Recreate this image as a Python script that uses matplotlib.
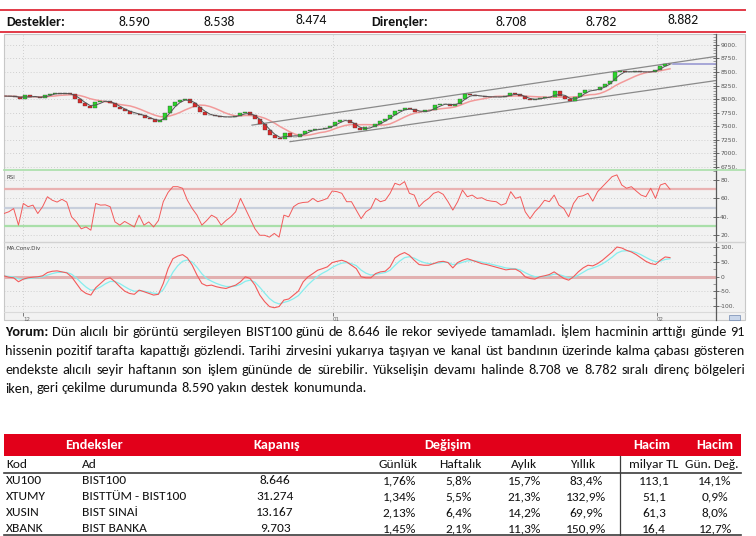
import numpy as np
import pandas as pd
import matplotlib
matplotlib.use('Agg')
import matplotlib.pyplot as plt
from matplotlib.patches import Rectangle
from matplotlib.lines import Line2D
from matplotlib.ticker import MultipleLocator, FuncFormatter, FixedLocator
from matplotlib import font_manager

W, H = 756, 536

# ---------------- data ----------------
close = [8055, 8050, 8045, 8006, 8067, 8045, 8035, 8020, 8075, 8100,
         8110, 8098, 8105, 8090, 8010, 7930, 7875, 7841, 7945, 7970,
         7963, 7930, 7860, 7810, 7780, 7732, 7730, 7700, 7650, 7630,
         7579, 7610, 7750, 7870, 7950, 7990, 8006, 7930, 7860, 7760,
         7705, 7700, 7680, 7671, 7665, 7675, 7680, 7740, 7760, 7700,
         7630, 7540, 7430, 7330, 7280, 7270, 7366, 7300, 7300, 7350,
         7410, 7430, 7440, 7450, 7465, 7500, 7585, 7605, 7620, 7550,
         7460, 7430, 7476, 7490, 7540, 7590, 7640, 7701, 7780, 7800,
         7830, 7810, 7770, 7755, 7790, 7800, 7890, 7915, 7910, 7880,
         7900, 8000, 8090, 8070, 8060, 8050, 8040, 8040, 8040, 8035,
         8060, 8110, 8090, 8050, 8000, 7985, 8000, 8025, 8035, 8045,
         8140, 8065, 8000, 7970, 8030, 8120, 8160, 8165, 8170, 8219,
         8280, 8341, 8494, 8512, 8500, 8505, 8510, 8505, 8498, 8500,
         8540, 8620, 8655, 8646]

rsi = [43.6, 45.5, 49, 31, 54.5, 51, 52.7, 43.6, 51, 61.8, 58, 56, 59, 56, 40,
       34.5, 27, 29, 25.5, 54.5, 52.7, 53, 51, 34.5, 31, 35, 32, 29, 41.8, 31,
       34.5, 29, 36, 56.4, 66.5, 72.7, 72.7, 71, 58, 49, 41.8, 31, 36, 41.8, 39,
       31, 36, 40, 45.5, 60, 49, 38, 27, 20, 20, 18, 22, 18, 41.8, 40,
       51, 54.5, 55.6, 56, 60, 56.4, 58, 60, 68, 67.3, 65.5, 56.4, 56.4, 47.3, 38,
       45.5, 49, 60, 56.4, 58, 65.5, 76.4, 74.5, 78.2, 65.5, 63.6, 51, 56.4, 60, 65.5,
       67.3, 64.4, 56.4, 47.3, 56.4, 69, 61.8, 63.6, 60, 60.7, 58, 57, 56.4, 52.7, 54.5,
       67.3, 60, 61.8, 45.5, 38, 45.5, 51, 58, 56.4, 63.6, 52.7, 49, 40, 54.5, 61.8,
       62.9, 65.5, 57, 67.3, 72.7, 78, 83.6, 85.5, 74.5, 71, 72.7, 68, 63.6, 61.8, 71,
       60, 74.5, 76.4, 70]

macd = [2, -2.3, -4.5, -18, -9, -4.5, -2.3, -1, 2.3, 13.6, 18, 19.3, 15.9, 12.5, -1,
        -24, -46.6, -58, -63.6, -38.6, -23.9, -9, -4.5, -18, -35, -50, -58, -61, -46.6, -52,
        -58, -63.6, -61, -24, 27, 61, 70, 75, 63.6, 38.6, 4.5, -24, -31.8, -29.5, -35,
        -38.6, -41, -35, -29.5, -18, -1, -6.8, -29.5, -63.6, -86, -103, -107, -103, -80.7, -77,
        -63.6, -50, -18, -1, 10, 21.6, 27, 33, 47.7, 52, 55.7, 50, 38.6, 27, -1,
        -4.5, -4.5, 10, 15.9, 18, 33, 63.6, 75, 82, 72.7, 55.7, 41, 38.6, 38.6, 44,
        50, 52, 47.7, 29.5, 47.7, 55.7, 61, 55.7, 50, 44, 40.9, 36.4, 31.8, 27.3, 22.7,
        25, 25, 15.9, -1, -6.8, -9, -1, 2.3, 6.8, 15.9, 4.5, -6.8, -12.5, -1, 15.9,
        29.5, 38.6, 36.4, 44.3, 55.7, 70, 84, 101, 97.7, 89.8, 84, 75, 63.6, 52, 44.3,
        41, 55.7, 67, 64.8]

# channel trendlines (bar index, price)
upper_channel = [(49.4, 7519), (142.2, 8788)]
lower_channel = [(57.0, 7213), (142.2, 8342)]
last_level = 8655

month_ticks = [3.6, 65.6, 130.4]
month_labels = ['12', '01', '02']

supports = ['8.590', '8.538', '8.474']
resistances = ['8.708', '8.782', '8.882']

para_lines = [
    "Yorum: Dün alıcılı bir görüntü sergileyen BIST100 günü de 8.646 ile rekor seviyede tamamladı. İşlem hacminin arttığı günde 91",
    "hissenin pozitif tarafta kapattığı gözlendi. Tarihi zirvesini yukarıya taşıyan ve kanal üst bandının üzerinde kalma çabası gösteren",
    "endekste alıcılı seyir haftanın son işlem gününde de sürebilir. Yükselişin devamı halinde 8.708 ve 8.782 sıralı direnç bölgeleri",
    "iken, geri çekilme durumunda 8.590 yakın destek konumunda.",
]

tbl_headers = ['Endeksler', 'Kapanış', 'Değişim', 'Hacim', 'Hacim']
tbl_subheaders = ['Günlük', 'Haftalık', 'Aylık', 'Yıllık', 'milyar TL', 'Gün. Değ.']
tbl_codes = ['XU100', 'XTUMY', 'XUSIN', 'XBANK']
tbl_names = ['BIST100', 'BISTTÜM - BIST100', 'BIST SINAİ', 'BIST BANKA']
tbl_close = ['8.646', '31.274', '13.167', '9.703']
tbl_daily = ['1,76%', '1,34%', '2,13%', '1,45%']
tbl_weekly = ['5,8%', '5,5%', '6,4%', '2,1%']
tbl_monthly = ['15,7%', '21,3%', '14,2%', '11,3%']
tbl_yearly = ['83,4%', '132,9%', '69,9%', '150,9%']
tbl_volume = ['113,1', '51,1', '61,3', '16,4']
tbl_volchg = ['14,1%', '0,9%', '8,0%', '12,7%']

# ---------------- setup ----------------
available = {f.name for f in font_manager.fontManager.ttflist}
FONT = next(f for f in ['Carlito', 'Lato', 'Open Sans', 'DejaVu Sans'] if f in available)
INK = '#111111'

fig = plt.figure(figsize=(W / 100, H / 100), dpi=100)
fig.patch.set_facecolor('white')
renderer = fig.canvas.get_renderer()


def fx(x):
    return x / W


def fy(y):
    return 1 - y / H


def ftext(x, y, s, **kw):
    kw.setdefault('fontfamily', FONT)
    return fig.text(fx(x), fy(y), s, **kw)


def measure(s, size, weight='normal'):
    t = fig.text(0, 0, s, fontsize=size, fontfamily=FONT, fontweight=weight)
    w = t.get_window_extent(renderer=renderer).width
    t.remove()
    return w


def hline(y, x0, x1, color, lw, z=3):
    fig.add_artist(Line2D([fx(x0), fx(x1)], [fy(y), fy(y)], color=color, lw=lw,
                          transform=fig.transFigure, zorder=z))


def vline(x, y0, y1, color, lw, z=3):
    fig.add_artist(Line2D([fx(x), fx(x)], [fy(y0), fy(y1)], color=color, lw=lw,
                          transform=fig.transFigure, zorder=z))


# ---------------- header ----------------
RED_LINE = '#e23a48'
hline(9.5, 0, 745, RED_LINE, 1.4)
hline(32, 0, 745, RED_LINE, 1.4)
fs_head = 10 * 59 / measure('Destekler:', 10, 'bold')
ftext(6, 22, 'Destekler:', fontsize=fs_head, fontweight='bold', va='center', ha='left', color=INK)
for xc, s, dy in zip([134, 219, 311], supports, [0, 0, -1.7]):
    ftext(xc, 22 + dy, s, fontsize=fs_head, va='center', ha='center', color=INK)
ftext(371, 22, 'Dirençler:', fontsize=fs_head, fontweight='bold', va='center', ha='left', color=INK)
for xc, s, dy in zip([511, 601, 683], resistances, [0, 0, -1.7]):
    ftext(xc, 22 + dy, s, fontsize=fs_head, va='center', ha='center', color=INK)

# ---------------- chart container ----------------
fig.patches.append(Rectangle((fx(4), fy(320)), (745 - 4) / W, (320 - 34) / H,
                             transform=fig.transFigure, fc='#f2f2f2', ec='#c8c8c8', lw=0.8, zorder=-5))
fig.patches.append(Rectangle((fx(729), fy(320)), 11 / W, 5 / H, transform=fig.transFigure,
                             fc='#c9d6ea', ec='#7088b0', lw=0.5, zorder=4))

L, R = 4, 716
ax1 = fig.add_axes([fx(L), fy(170), (R - L) / W, (170 - 34) / H])
ax2 = fig.add_axes([fx(L), fy(242), (R - L) / W, (242 - 170) / H])
ax3 = fig.add_axes([fx(L), fy(312), (R - L) / W, (312 - 242) / H])

n = len(close)
xi = np.arange(n)
for ax in (ax1, ax2, ax3):
    ax.set_facecolor('none')
    ax.set_zorder(1)
    ax.set_xlim(-0.2, 142.2)
    for s in ('left', 'top', 'bottom'):
        ax.spines[s].set_visible(False)
    ax.spines['right'].set_color('#5a5a5a')
    ax.spines['right'].set_linewidth(0.9)
    ax.yaxis.tick_right()
    ax.tick_params(axis='y', which='major', direction='inout', length=4, width=0.6,
                   colors='#555555', labelsize=4.3, pad=1)
    ax.tick_params(axis='y', which='minor', direction='in', length=2, width=0.5, colors='#777777')
    ax.grid(axis='y', which='major', linestyle=(0, (1, 2.5)), color='#c4c4c4', lw=0.6)
    for t in month_ticks:
        ax.axvline(t, linestyle=(0, (1, 2.5)), color='#c4c4c4', lw=0.6, zorder=0.5)
    ax.set_axisbelow(True)

ax1.set_xticks([])
ax2.set_xticks([])

# price panel
cs = pd.Series(close, dtype=float)
opens = cs.shift(1).fillna(cs.iloc[0]).values
cv = cs.values
up = cv >= opens
body_lo = np.minimum(opens, cv)
body_h = np.maximum(np.abs(cv - opens), 2)
ax1.bar(xi, body_h, bottom=body_lo, width=0.7,
        color=np.where(up, '#2bd62b', '#dd2a2a'), edgecolor='#3a3a3a', linewidth=0.25, zorder=3)
ax1.plot(xi, cs.rolling(3, min_periods=1).mean(), color='#555555', lw=0.7, zorder=4)
ax1.plot(xi, cs.rolling(8, min_periods=1).mean(), color='#f29a9a', lw=1.1, zorder=2)
for seg in (upper_channel, lower_channel):
    ax1.plot([seg[0][0], seg[1][0]], [seg[0][1], seg[1][1]], color='#8a8a8a', lw=0.9, zorder=2)
ax1.plot([n - 0.5, 142.2], [last_level, last_level], color='#9a9ad2', lw=1.2, zorder=2)
ax1.set_ylim(6690, 9202)
ax1.yaxis.set_major_locator(MultipleLocator(250))
ax1.yaxis.set_minor_locator(MultipleLocator(50))
ax1.yaxis.set_major_formatter(FuncFormatter(lambda v, p: f"{int(round(v))}."))

# RSI panel
rsi_x = np.linspace(-0.2, n - 1, len(rsi))
ax2.axhline(70, color='#e9b2b2', lw=1.6, zorder=1)
ax2.axhline(50, color='#c8cfdc', lw=1.6, zorder=1)
ax2.axhline(30, color='#a9dfa9', lw=1.6, zorder=1)
ax2.plot(rsi_x, rsi, color='#f25a5a', lw=0.7, zorder=3)
ax2.set_ylim(12.7, 90.8)
ax2.yaxis.set_major_locator(FixedLocator([20, 40, 60, 80]))
ax2.yaxis.set_minor_locator(MultipleLocator(10))
ax2.yaxis.set_major_formatter(FuncFormatter(lambda v, p: f"{int(round(v))}."))
ax2.text(0.003, 0.93, 'RSI', transform=ax2.transAxes, fontsize=4, color='#444444',
         va='top', ha='left', fontfamily='DejaVu Sans')

# MACD panel
macd_s = pd.Series(macd, dtype=float)
signal = macd_s.ewm(span=4, adjust=False).mean()
macd_x = np.linspace(-0.2, n - 1, len(macd))
ax3.axhline(0, color='#e2b0b0', lw=2.2, zorder=1)
ax3.plot(macd_x, signal, color='#86eeee', lw=0.9, zorder=3)
ax3.plot(macd_x, macd_s, color='#f25a5a', lw=0.8, zorder=4)
ax3.set_ylim(-121.6, 118.2)
ax3.yaxis.set_major_locator(FixedLocator([-100, -50, 0, 50, 100]))
ax3.yaxis.set_minor_locator(MultipleLocator(25))
ax3.yaxis.set_major_formatter(FuncFormatter(lambda v, p: '0' if round(v) == 0 else f"{int(round(v))}."))
ax3.text(0.003, 0.95, 'MA.Conv.Div', transform=ax3.transAxes, fontsize=4, color='#444444',
         va='top', ha='left', fontfamily='DejaVu Sans')
ax3.set_xticks(month_ticks)
ax3.set_xticklabels(month_labels)
ax3.tick_params(axis='x', direction='out', length=3, width=0.6, colors='#666666',
                labelsize=4, pad=0.5)
for lbl in ax3.get_xticklabels():
    lbl.set_ha('left')

# panel separators
hline(170, 4, 745, '#a9dfa9', 1.2)
hline(242, 4, 745, '#d2d2d2', 1.0)
hline(312, 4, 745, '#dadada', 0.8)
vline(716, 312, 320, '#5a5a5a', 0.9)

# ---------------- paragraph ----------------
fs_para = 10 * 361 / measure(para_lines[3], 10)
nat1 = measure(para_lines[0].replace('Yorum:', ''), 10) + measure('Yorum:', 10, 'bold')
fs_para = min(fs_para, 10 * 735 / nat1)
space_w = measure('a a', fs_para) - measure('aa', fs_para)
baselines = [336, 355, 374, 392.5]
for li, line in enumerate(para_lines):
    words = line.split(' ')
    weights = ['bold' if (li == 0 and k == 0) else 'normal' for k in range(len(words))]
    widths = [measure(w, fs_para, wt) for w, wt in zip(words, weights)]
    if li < 3:
        gap = (740 - sum(widths)) / (len(words) - 1)
    else:
        gap = space_w
    x = 5
    for w, wt, wd in zip(words, weights, widths):
        ftext(x, baselines[li], w, fontsize=fs_para, fontweight=wt, va='baseline', ha='left',
              color=INK)
        x += wd + gap

# ---------------- table ----------------
fs_tbl = 10 * 104 / measure('BISTTÜM - BIST100', 10)
fs_thd = 10 * 58 / measure('Endeksler', 10, 'bold')
fig.patches.append(Rectangle((fx(4), fy(456)), (741 - 4) / W, (456 - 434) / H,
                             transform=fig.transFigure, fc='#e2001a', ec='none', zorder=1))
for xc, s in zip([94, 277, 448, 652, 715], tbl_headers):
    ftext(xc, 445, s, fontsize=fs_thd, fontweight='bold', color='white', va='center', ha='center')
ftext(6, 465, 'Kod', fontsize=fs_tbl, color=INK, va='center', ha='left')
ftext(82, 465, 'Ad', fontsize=fs_tbl, color=INK, va='center', ha='left')
for xc, s in zip([398, 460, 524, 583, 654, 712], tbl_subheaders):
    ftext(xc, 465, s, fontsize=fs_tbl, color=INK, va='center', ha='center')
hline(473, 4, 741, '#3c3c3c', 1.2)
hline(535, 4, 741, '#3c3c3c', 1.2)
vline(620, 456, 535, '#3c3c3c', 0.9)

row_y = [481, 497, 513, 528.5]
cols = [tbl_close, tbl_daily, tbl_weekly, tbl_monthly, tbl_yearly, tbl_volume, tbl_volchg]
for k in range(len(tbl_codes)):
    y = row_y[k]
    ftext(6, y, tbl_codes[k], fontsize=fs_tbl, color=INK, va='center', ha='left')
    ftext(82, y, tbl_names[k], fontsize=fs_tbl, color=INK, va='center', ha='left')
    for xc, col in zip([275, 399, 459, 524, 586, 654, 715], cols):
        ftext(xc, y, col[k], fontsize=fs_tbl, color=INK, va='center', ha='center')

fig.savefig('out.png', dpi=100, facecolor=fig.get_facecolor())
